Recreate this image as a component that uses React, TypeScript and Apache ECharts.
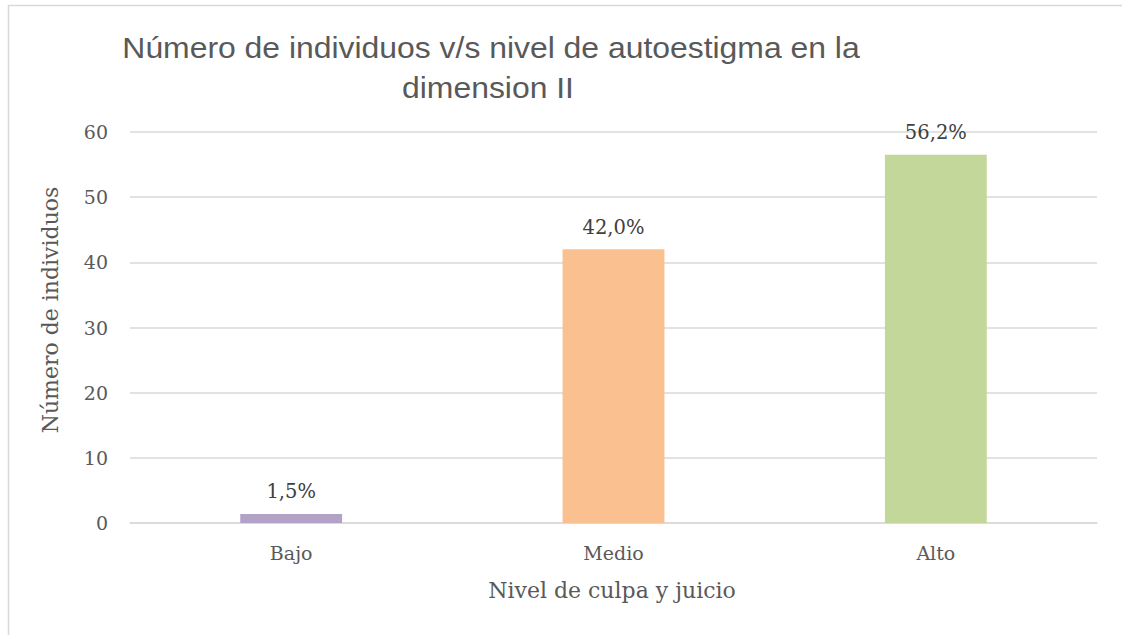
import React, { useEffect, useRef } from "react";
import * as echarts from "echarts";

const categories = ["Bajo", "Medio", "Alto"];
const values = [1.4, 42.0, 56.5];
const labels = ["1,5%", "42,0%", "56,2%"];
const colors = ["#B3A2C7", "#FAC090", "#C4D79B"];
const yTicks = [0, 10, 20, 30, 40, 50, 60];

export default function App() {
  const ref = useRef<HTMLDivElement>(null);
  useEffect(() => {
    const chart = echarts.init(ref.current!, null, { renderer: "svg" });
    const serif = "'DejaVu Serif', 'Liberation Serif', serif";
    const sans = "'Liberation Sans', Arial, sans-serif";
    chart.setOption({
      animation: false,
      backgroundColor: "#ffffff",
      grid: { left: 130, right: 25, top: 132, bottom: 112 },
      graphic: [
        { type: "line", shape: { x1: 8, y1: 5.5, x2: 1122, y2: 5.5 }, style: { stroke: "#d9d9d9", lineWidth: 1.5 } },
        { type: "line", shape: { x1: 8.5, y1: 5, x2: 8.5, y2: 635 }, style: { stroke: "#d9d9d9", lineWidth: 1.5 } },
        {
          type: "text", x: 491, y: 47.5, scaleX: 1.1,
          style: { text: "Número de individuos v/s nivel de autoestigma en la", fill: "#595959", font: "29px " + sans, textAlign: "center", textVerticalAlign: "middle" },
        },
        {
          type: "text", x: 488, y: 87.5, scaleX: 1.1,
          style: { text: "dimension II", fill: "#595959", font: "29px " + sans, textAlign: "center", textVerticalAlign: "middle" },
        },
        {
          type: "text", x: 50, y: 310, rotation: Math.PI / 2,
          style: { text: "Número de individuos", fill: "#595959", font: "22px " + serif, textAlign: "center", textVerticalAlign: "middle" },
        },
        {
          type: "text", x: 612, y: 590,
          style: { text: "Nivel de culpa y juicio", fill: "#595959", font: "22px " + serif, textAlign: "center", textVerticalAlign: "middle" },
        },
      ],
      xAxis: {
        type: "category",
        data: categories,
        axisLine: { show: true, lineStyle: { color: "#d9d9d9", width: 1.5 } },
        axisTick: { show: false },
        axisLabel: { color: "#595959", fontFamily: serif, fontSize: 19, margin: 20 },
      },
      yAxis: {
        type: "value",
        min: yTicks[0],
        max: yTicks[yTicks.length - 1],
        interval: 10,
        axisLine: { show: false },
        axisTick: { show: false },
        splitLine: { lineStyle: { color: "#d9d9d9", width: 1.5 } },
        axisLabel: { color: "#595959", fontFamily: serif, fontSize: 19, margin: 22 },
      },
      series: [
        {
          type: "bar",
          barWidth: "31.6%",
          data: values.map((v, i) => ({ value: v, itemStyle: { color: colors[i] } })),
          label: {
            show: true,
            position: "top",
            distance: 12,
            color: "#404040",
            fontFamily: serif,
            fontSize: 19.5,
            formatter: (p: any) => labels[p.dataIndex],
          },
        },
      ],
    });
    return () => chart.dispose();
  }, []);
  return <div ref={ref} style={{ width: 1122, height: 635, position: "absolute", left: 0, top: 0 }} />;
}
